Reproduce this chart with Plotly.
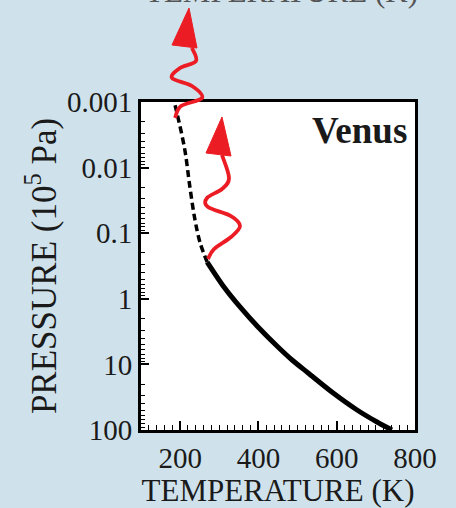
import plotly.graph_objects as go

# ---- data ----
dashed_T = [187, 192, 212, 225, 238, 251, 269]
dashed_P = [0.00112, 0.00148, 0.0054, 0.020, 0.063, 0.14, 0.275]
solid_T = [269, 312, 353, 399, 450, 486, 527, 591, 652, 703, 741]
solid_P = [0.275, 0.66, 1.33, 2.69, 5.43, 8.57, 13.5, 27.3, 49.5, 75.5, 100]

x_tickvals = [200, 400, 600, 800]
y_tickvals = [0.001, 0.01, 0.1, 1, 10, 100]
y_ticktext = ["0.001", "0.01", "0.1", "1", "10", "100"]

# ---- layout geometry ----
W, H = 456, 508
L, R, T, B = 141, 41, 102, 78
PW, PH = W - L - R, H - T - B
BG = "#cfe2ec"

def px2paper(px, py):
    return (px - L) / PW, (H - B - py) / PH

def smooth_path(pts):
    pp = [px2paper(*p) for p in pts]
    d = f"M {pp[0][0]:.4f},{pp[0][1]:.4f}"
    n = len(pp)
    for i in range(n - 1):
        p0 = pp[max(i - 1, 0)]
        p1 = pp[i]
        p2 = pp[i + 1]
        p3 = pp[min(i + 2, n - 1)]
        c1 = (p1[0] + (p2[0] - p0[0]) / 6, p1[1] + (p2[1] - p0[1]) / 6)
        c2 = (p2[0] - (p3[0] - p1[0]) / 6, p2[1] - (p3[1] - p1[1]) / 6)
        d += f" C {c1[0]:.4f},{c1[1]:.4f} {c2[0]:.4f},{c2[1]:.4f} {p2[0]:.4f},{p2[1]:.4f}"
    return d

def tri_path(pts):
    pp = [px2paper(*p) for p in pts]
    return "M " + " L ".join(f"{x:.4f},{y:.4f}" for x, y in pp) + " Z"

RED = "#ec1c24"
arrow1 = [(175, 118), (181, 106), (202, 98), (192, 86), (172, 78), (180, 68), (196, 61), (192, 48)]
head1 = [(189, 8), (172, 45), (197, 48)]
arrow2 = [(208, 259), (214, 249), (231, 237), (240, 226), (231, 216), (208, 207), (207, 198), (222, 189), (229, 178), (222, 155)]
head2 = [(222, 117), (206, 153), (231, 156)]

fig = go.Figure()
fig.add_trace(go.Scatter(x=dashed_T, y=dashed_P, mode="lines",
                         line=dict(color="black", width=3.5, dash="7px,4px", shape="spline"),
                         showlegend=False))
fig.add_trace(go.Scatter(x=solid_T, y=solid_P, mode="lines",
                         line=dict(color="black", width=5, shape="spline", smoothing=0.8),
                         showlegend=False))

shapes = []
for path in (arrow1, arrow2):
    shapes.append(dict(type="path", xref="paper", yref="paper", path=smooth_path(path),
                       line=dict(color=RED, width=3.8), layer="above"))
for hd in (head1, head2):
    shapes.append(dict(type="path", xref="paper", yref="paper", path=tri_path(hd),
                       fillcolor=RED, line=dict(color=RED, width=1), layer="above"))

FONT = "Liberation Serif"
fig.update_layout(
    width=W, height=H,
    margin=dict(l=L, r=R, t=T, b=B, autoexpand=False),
    paper_bgcolor=BG,
    plot_bgcolor="white",
    font=dict(family=FONT, color="#1a1a1a"),
    shapes=shapes,
    xaxis=dict(range=[100, 800], tickvals=x_tickvals, ticks="inside", ticklen=9,
               tickwidth=1.5, tickcolor="black",
               minor=dict(ticks="inside", dtick=20, tick0=0, ticklen=5, tickwidth=1.2, tickcolor="black"),
               showgrid=False, zeroline=False, showline=True, linecolor="black",
               linewidth=3, mirror=True, tickfont=dict(size=29, family=FONT),
               title=dict(text="TEMPERATURE (K)", font=dict(size=31, family=FONT), standoff=9)),
    yaxis=dict(type="log", range=[2, -3], tickvals=y_tickvals, ticktext=y_ticktext,
               ticks="inside", ticklen=8, tickwidth=1.5, tickcolor="black",
               minor=dict(ticks="inside", ticklen=4, tickwidth=1, tickcolor="black", dtick="D1"),
               showgrid=False, zeroline=False, showline=True, linecolor="black",
               linewidth=3, mirror=True, tickfont=dict(size=29, family=FONT),
               title=dict(text="PRESSURE (10<sup>5</sup> Pa)", font=dict(size=35, family=FONT), standoff=0)),
    annotations=[
        dict(text="<b>Venus</b>", xref="paper", yref="paper", x=(409 - L) / PW, y=(H - B - 130) / PH,
             xanchor="right", yanchor="middle", showarrow=False,
             font=dict(size=37, family=FONT, color="#1a1a1a")),
        dict(text="TEMPERATURE (K)", xref="paper", yref="paper", x=(281 - L) / PW, y=(H - B - 11) / PH,
             xanchor="center", yanchor="bottom", showarrow=False,
             font=dict(size=31, family=FONT, color="#555555")),
    ],
)

fig.write_html("out.html", config={"displayModeBar": False},
               post_script=f"document.body.style.margin='0px';document.body.style.background='{BG}';"
                           "document.body.style.overflow='hidden';")
